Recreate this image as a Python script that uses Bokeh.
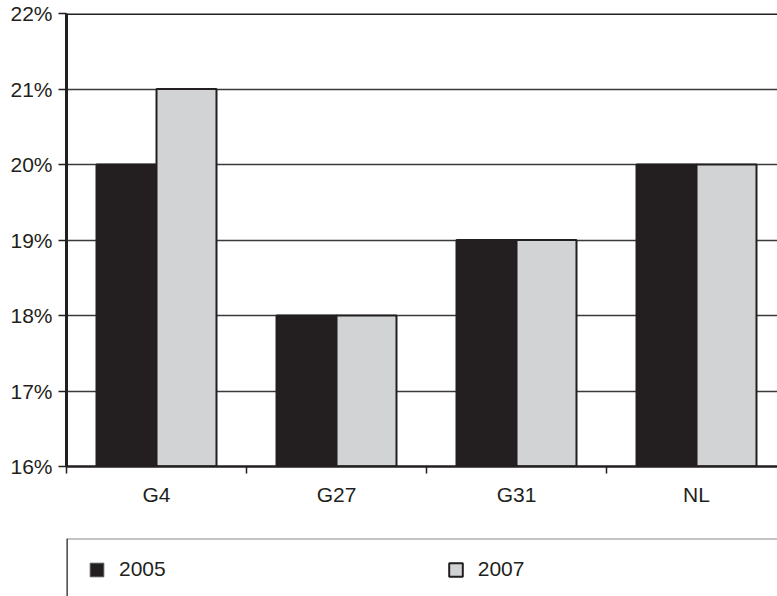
from bokeh.plotting import figure
from bokeh.models import (ColumnDataSource, FixedTicker, NumeralTickFormatter, Span,
                          Range1d, Legend, LegendItem)
from bokeh.transform import dodge
from bokeh.layouts import column
from bokeh.embed import file_html
from bokeh.resources import INLINE

categories = ["G4", "G27", "G31", "NL"]
share_2005 = [0.20, 0.18, 0.19, 0.20]
share_2007 = [0.21, 0.18, 0.19, 0.20]
y_ticks = [0.16, 0.17, 0.18, 0.19, 0.20, 0.21, 0.22]
series_labels = ["2005", "2007"]

DARK = "#231f20"
GREY = "#d1d3d4"
FONT = "Liberation Sans"

centers = [i + 0.5 for i in range(len(categories))]
bounds = [i for i in range(len(categories) + 1)]
src = ColumnDataSource(dict(x=centers, a=share_2005, b=share_2007))

p = figure(width=777, height=531, x_range=Range1d(0, 3.95), y_range=Range1d(0.16, 0.22),
           output_backend="svg", toolbar_location=None,
           min_border_left=66, min_border_right=0, min_border_top=13, min_border_bottom=65)
p.outline_line_color = None
p.background_fill_color = "white"

p.vbar(x=dodge("x", -1/6, range=p.x_range), top="a", bottom=0.16, width=1/3, source=src,
       fill_color=DARK, line_color=DARK, line_width=2)
p.vbar(x=dodge("x", 1/6, range=p.x_range), top="b", bottom=0.16, width=1/3, source=src,
       fill_color=GREY, line_color=DARK, line_width=2)

p.xgrid.grid_line_color = None
p.ygrid.ticker = FixedTicker(ticks=y_ticks)
p.ygrid.grid_line_color = "#3a3a3a"
p.ygrid.grid_line_width = 1.5
p.ygrid.level = "underlay"

p.add_layout(Span(location=y_ticks[-1], dimension="width", line_color=DARK, line_width=3))

xa = p.xaxis[0]
xa.ticker = FixedTicker(ticks=centers, minor_ticks=bounds)
xa.major_label_overrides = {c: n for c, n in zip(centers, categories)}
xa.major_tick_out = 0
xa.major_tick_in = 0
xa.major_tick_line_color = None
xa.minor_tick_out = 7
xa.minor_tick_in = 0
xa.minor_tick_line_color = DARK
xa.minor_tick_line_width = 1.5
xa.axis_line_color = DARK
xa.axis_line_width = 2.5
xa.major_label_standoff = 9
xa.major_label_text_font = FONT
xa.major_label_text_font_size = "21px"
xa.major_label_text_color = DARK

ya = p.yaxis[0]
ya.ticker = FixedTicker(ticks=y_ticks)
ya.formatter = NumeralTickFormatter(format="0%")
ya.major_tick_out = 8
ya.major_tick_in = 0
ya.major_tick_line_color = DARK
ya.major_tick_line_width = 1.5
ya.minor_tick_line_color = None
ya.axis_line_color = DARK
ya.axis_line_width = 3
ya.major_label_standoff = 6
ya.major_label_text_font = FONT
ya.major_label_text_font_size = "21px"
ya.major_label_text_color = DARK

# legend panel
leg = figure(width=777, height=65, x_range=Range1d(0, 1), y_range=Range1d(0, 1),
             output_backend="svg", toolbar_location=None,
             x_axis_location=None, y_axis_location=None,
             min_border_left=66, min_border_right=0, min_border_top=7, min_border_bottom=0)
leg.outline_line_color = None
leg.xgrid.grid_line_color = None
leg.ygrid.grid_line_color = None
leg.add_layout(Span(location=1, dimension="width", line_color="#8a8a8a", line_width=2))
leg.add_layout(Span(location=0, dimension="height", line_color=DARK, line_width=2.5))

r1 = leg.vbar(x="x", top="a", bottom=0.16, width=0.1, source=src, visible=False,
              fill_color=DARK, line_color="#555555", line_width=1)
r2 = leg.vbar(x="x", top="b", bottom=0.16, width=0.1, source=src, visible=False,
              fill_color=GREY, line_color=DARK, line_width=2)

legend = Legend(items=[LegendItem(label=series_labels[0], renderers=[r1]),
                       LegendItem(label=series_labels[1], renderers=[r2])],
                location=(22, 15), orientation="horizontal", click_policy="none",
                glyph_width=17, glyph_height=17, label_standoff=14, spacing=281,
                padding=0, margin=0, border_line_color=None, background_fill_alpha=0,
                label_text_font=FONT, label_text_font_size="21px", label_text_color=DARK)
leg.add_layout(legend)

layout = column(p, leg, spacing=0)
open("out.html", "w").write(file_html(layout, INLINE))
